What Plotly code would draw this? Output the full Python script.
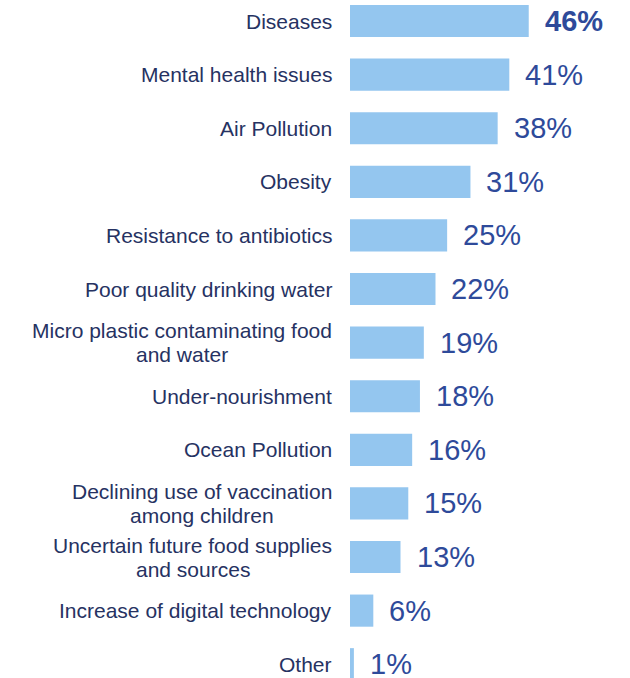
import plotly.graph_objects as go

categories = [
    "Diseases",
    "Mental health issues",
    "Air Pollution",
    "Obesity",
    "Resistance to antibiotics",
    "Poor quality drinking water",
    "Micro plastic contaminating food<br>and water",
    "Under-nourishment",
    "Ocean Pollution",
    "Declining use of vaccination<br>among children",
    "Uncertain future food supplies<br>and sources",
    "Increase of digital technology",
    "Other",
]
values = [46, 41, 38, 31, 25, 22, 19, 18, 16, 15, 13, 6, 1]

BAR_COLOR = "#94C6EF"
LABEL_COLOR = "#263262"
VALUE_COLOR = "#2E4A9A"
FONT = "Liberation Sans, Arial, sans-serif"
LABEL_SIZE = 21
LINE_GAP = 24      # vertical distance between lines of a wrapped category label
LABEL_PAD = 16     # gap between category labels and the bars
BOX_PAD = 2        # inner padding plotly adds on a right-anchored annotation

# Liberation Sans advance widths (em) for measuring wrapped labels
_WIDTHS = {
    " ": 0.278, "-": 0.333,
    "a": 0.556, "b": 0.556, "c": 0.5, "d": 0.556, "e": 0.556, "f": 0.278,
    "g": 0.556, "h": 0.556, "i": 0.222, "j": 0.222, "k": 0.5, "l": 0.222,
    "m": 0.833, "n": 0.556, "o": 0.556, "p": 0.556, "q": 0.556, "r": 0.333,
    "s": 0.5, "t": 0.278, "u": 0.556, "v": 0.5, "w": 0.722, "x": 0.5,
    "y": 0.5, "z": 0.5,
    "A": 0.667, "D": 0.722, "I": 0.278, "M": 0.833, "O": 0.778, "P": 0.667,
    "R": 0.722, "U": 0.722,
}


def text_width(s, size):
    return sum(_WIDTHS.get(ch, 0.556) for ch in s) * size


positions = list(range(len(categories)))

fig = go.Figure(
    go.Bar(
        x=values,
        y=positions,
        orientation="h",
        width=0.6,
        marker=dict(color=BAR_COLOR, line=dict(width=0)),
        hoverinfo="skip",
    )
)

annotations = []
for i, (cat, val) in enumerate(zip(categories, values)):
    # category label: the block is right-aligned against the bars and its
    # wrapped lines are centred on one another
    lines = cat.split("<br>")
    n = len(lines)
    block_w = max(text_width(s, LABEL_SIZE) for s in lines)
    for k, line in enumerate(lines):
        offset = ((n - 1) / 2 - k) * LINE_GAP
        if n > 1:
            anchor, shift = "center", -LABEL_PAD - BOX_PAD - block_w / 2
        else:
            anchor, shift = "right", -LABEL_PAD
        annotations.append(dict(
            x=0, xref="paper", y=i, yref="y",
            text=line, showarrow=False,
            xanchor=anchor, yanchor="middle",
            xshift=shift, yshift=offset,
            font=dict(family=FONT, size=LABEL_SIZE, color=LABEL_COLOR),
        ))
    # value label at the end of the bar
    label = f"{val}%"
    if i == 0:
        label = f"<b>{label}</b>"
    annotations.append(dict(
        x=val, xref="x", y=i, yref="y",
        text=label, showarrow=False,
        xanchor="left", yanchor="middle", xshift=14,
        font=dict(family=FONT, size=29, color=VALUE_COLOR),
    ))

fig.update_layout(
    width=630,
    height=678,
    margin=dict(l=350, r=8, t=0, b=0),
    paper_bgcolor="white",
    plot_bgcolor="white",
    showlegend=False,
    annotations=annotations,
    xaxis=dict(range=[0, 70], visible=False, fixedrange=True),
    yaxis=dict(range=[12.257, -0.392], visible=False, fixedrange=True),
)

fig.write_html("out.html")
